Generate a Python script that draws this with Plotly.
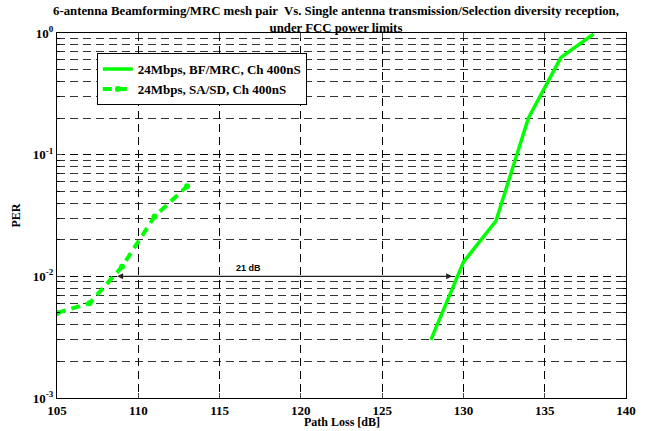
import plotly.graph_objects as go
import math

# Data
bf_x = [128, 130, 132, 134, 136, 138]
bf_per = [0.003, 0.0131, 0.0285, 0.2, 0.63, 0.98]
sa_x = [105, 107, 109, 111, 113]
sa_per = [0.005, 0.006, 0.012, 0.031, 0.055]
bf_name = "24Mbps, BF/MRC, Ch 400nS"
sa_name = "24Mbps, SA/SD, Ch 400nS"
arrow_y = 0.01
arrow_x0 = 108.7
arrow_x1 = 129.4
arrow_label = "21 dB"
arrow_label_x = 116.8
x_ticks = [105, 110, 115, 120, 125, 130, 135, 140]
y_ticks = [0.001, 0.01, 0.1, 1]
y_ticktext = ["10<sup>-3</sup>", "10<sup>-2</sup>", "10<sup>-1</sup>", "10<sup>0</sup>"]
y_minor = [k * 10.0 ** e for e in (-3, -2, -1) for k in range(2, 10)]
title_lines = ["6-antenna Beamforming/MRC mesh pair  Vs. Single antenna transmission/Selection diversity reception,",
               "under FCC power limits"]
x_title = "Path Loss [dB]"
y_title = "PER"

serif = "Liberation Serif"
green = "#00ff00"

fig = go.Figure()
fig.add_trace(go.Scatter(x=bf_x, y=bf_per, mode="lines", name=bf_name,
                         line=dict(color=green, width=3.5)))
fig.add_trace(go.Scatter(x=sa_x, y=sa_per, mode="lines+markers", name=sa_name,
                         line=dict(color=green, width=4, dash="9px,6px"),
                         marker=dict(color=green, size=6)))

ly = math.log10(arrow_y)
fig.add_annotation(x=arrow_x0, y=ly, ax=arrow_x1, ay=ly, xref="x", yref="y",
                   axref="x", ayref="y", showarrow=True, arrowhead=2, arrowside="end+start",
                   arrowsize=1, arrowwidth=1.2, arrowcolor="#222", text="")
fig.add_annotation(x=arrow_label_x, y=ly, xref="x", yref="y", text=arrow_label,
                   showarrow=False, yshift=8,
                   font=dict(family="Liberation Sans", size=9, color="black", weight="bold"))
fig.add_annotation(x=0.49, y=1, xref="paper", yref="paper", xanchor="center", yanchor="bottom",
                   yshift=-4, showarrow=False, text="<br>".join(title_lines),
                   font=dict(family=serif, size=12.8, color="black", weight="bold"))
fig.add_annotation(x=0.5, y=0, xref="paper", yref="paper", xanchor="center", yanchor="top",
                   yshift=-15, showarrow=False, text=x_title,
                   font=dict(family=serif, size=12, color="black", weight="bold"))

grid_dash = "8px,5px"
tickfont = dict(family=serif, size=13, color="black", weight="bold")
fig.update_xaxes(range=[105, 140], tickvals=x_ticks, ticks="inside", ticklen=5,
                 showline=True, linecolor="black", linewidth=1, mirror="ticks",
                 showgrid=True, gridcolor="black", gridwidth=0.8, griddash=grid_dash,
                 zeroline=False, tickfont=tickfont, ticklabelstandoff=0, automargin=False)
fig.update_yaxes(type="log", range=[-3, 0], tickvals=y_ticks, ticktext=y_ticktext,
                 ticks="inside", ticklen=5, automargin=False,
                 showline=True, linecolor="black", linewidth=1, mirror="ticks",
                 showgrid=True, gridcolor="black", gridwidth=0.8, griddash=grid_dash,
                 minor=dict(tickvals=y_minor, ticks="inside", ticklen=3, tickcolor="black",
                            showgrid=True, gridcolor="#333", gridwidth=0.8, griddash=grid_dash),
                 tickfont=tickfont,
                 title=dict(text=y_title, standoff=9,
                            font=dict(family=serif, size=12, color="black", weight="bold")))

fig.update_layout(
    width=646, height=431,
    margin=dict(l=57, r=20, t=33, b=33),
    plot_bgcolor="white", paper_bgcolor="white",
    legend=dict(x=0.07, y=0.945, xanchor="left", yanchor="top",
                bgcolor="white", bordercolor="black", borderwidth=1,
                font=dict(family=serif, size=13, color="black", weight="bold"),
                tracegroupgap=0, itemwidth=30),
    showlegend=True,
)

fig.write_html("out.html")
